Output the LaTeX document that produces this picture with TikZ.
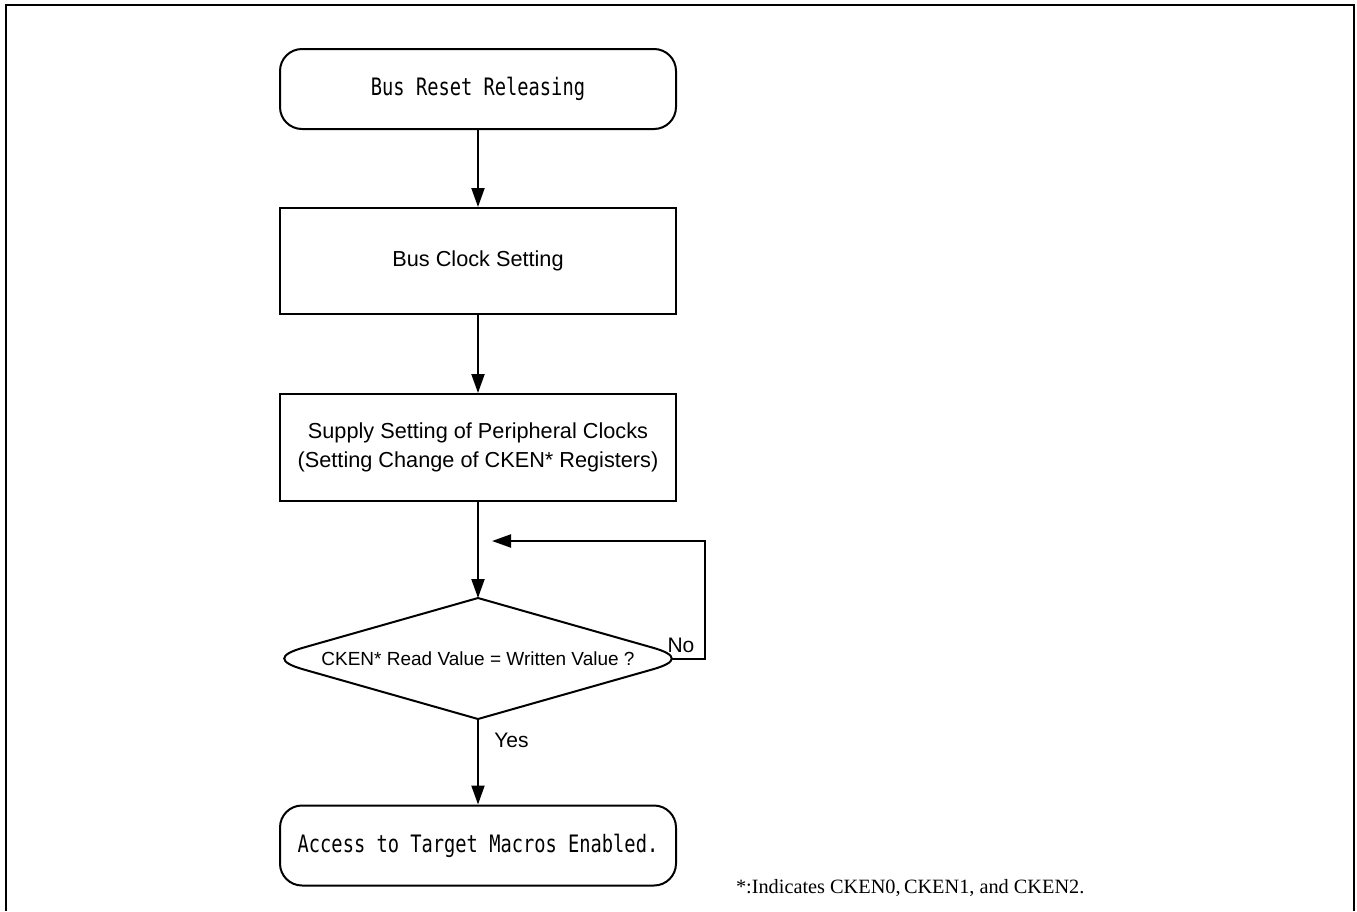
\documentclass[tikz,border=0pt]{standalone}
\usepackage{fontspec}
\usetikzlibrary{arrows.meta}
\newfontfamily\arialfont{Liberation Sans}
\newfontfamily\serifnote{Liberation Serif}
\newfontfamily\gothicfont[FakeStretch=0.78]{DejaVu Sans Mono}
\begin{document}
\begin{tikzpicture}[x=1pt,y=-1pt,
  every path/.style={line width=2pt},
  flow/.style={draw=black,line width=2pt,-{Triangle[length=19pt,width=13pt]}},
  terminal/.style={draw,line width=2pt,rounded corners=22pt,minimum width=396pt,minimum height=80pt,inner sep=0pt,
    font=\gothicfont\fontsize{24}{28}\selectfont},
  process/.style={draw,line width=2pt,minimum width=396pt,inner sep=0pt,align=center,
    font=\arialfont\fontsize{21.7}{29}\selectfont},
  lbl/.style={inner sep=0pt,font=\arialfont\fontsize{21}{24}\selectfont}]
\useasboundingbox (0,0) rectangle (1357,911);
% frame open at the bottom
\draw[line width=2.3pt] (5.7,911) -- (5.7,5.2) -- (1354,5.2) -- (1354,911);

% steps
\node[terminal] (reset) at (478,89) {Bus Reset Releasing};
\node[process,minimum height=106pt] (clk) at (478,261) {Bus Clock Setting};
\node[process,minimum height=107pt] (supply) at (478,447.5)
  {Supply Setting of Peripheral Clocks\\(Setting Change of CKEN* Registers)};
\node[terminal] (access) at (478,845.5) {Access to Target Macros Enabled.};

% decision, drawn with rounded side tips
\coordinate (dT) at (478,598);
\coordinate (dB) at (478,719);
\coordinate (dE) at (672,658.5);
\draw (dT) -- (652.5,647.6) .. controls (678.2,654.9) and (678.2,662.1) .. (652.5,669.4) -- (dB)
  -- (303.5,669.4) .. controls (277.8,662.1) and (277.8,654.9) .. (303.5,647.6) -- cycle;
\node[inner sep=0pt,font=\arialfont\fontsize{19}{22}\selectfont] (dia) at (478,659)
  {CKEN* Read Value = Written Value ?};

% connectors
\coordinate (merge) at (492,541);
\coordinate (loop) at (705,658.5);
\draw[flow] (reset.south) -- (clk.north);
\draw[flow] (clk.south) -- (supply.north);
\draw[flow] (supply.south) -- (dT);
\draw[flow] (dE) -- (loop) |- (merge);
\draw[flow] (dB) -- (access.north);

\node[lbl] (no) at (681,645.5) {No};
\node[lbl] (yes) at (511.5,740) {Yes};

% footnote
\node[anchor=base west,inner sep=0pt,font=\serifnote\fontsize{20.3}{24}\selectfont] (note) at (735,893)
  {*:Indicates CKEN0,\,CKEN1, and CKEN2.};
\end{tikzpicture}
\end{document}
